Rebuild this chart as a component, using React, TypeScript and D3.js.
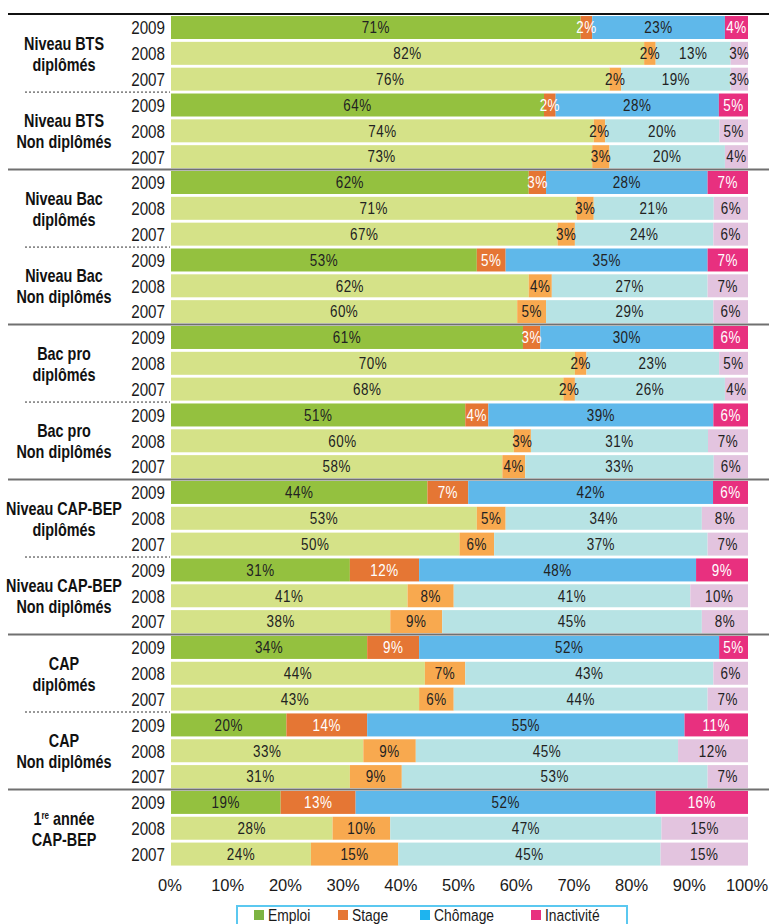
import React from "react";
import * as d3 from "d3";

const groupLabels: string[][] = [
  ["Niveau BTS", "diplômés"],
  ["Niveau BTS", "Non diplômés"],
  ["Niveau Bac", "diplômés"],
  ["Niveau Bac", "Non diplômés"],
  ["Bac pro", "diplômés"],
  ["Bac pro", "Non diplômés"],
  ["Niveau CAP-BEP", "diplômés"],
  ["Niveau CAP-BEP", "Non diplômés"],
  ["CAP", "diplômés"],
  ["CAP", "Non diplômés"],
  ["1re année", "CAP-BEP"],
];
const years = ["2009", "2008", "2007"];
const seriesNames = ["Emploi", "Stage", "Chômage", "Inactivité"];

// one value per row, groups in order, years 2009, 2008, 2007
const emploi = [71, 82, 76, 64, 74, 73, 62, 71, 67, 53, 62, 60, 61, 70, 68, 51, 60, 58, 44, 53, 50, 31, 41, 38, 34, 44, 43, 20, 33, 31, 19, 28, 24];
const stage = [2, 2, 2, 2, 2, 3, 3, 3, 3, 5, 4, 5, 3, 2, 2, 4, 3, 4, 7, 5, 6, 12, 8, 9, 9, 7, 6, 14, 9, 9, 13, 10, 15];
const chomage = [23, 13, 19, 28, 20, 20, 28, 21, 24, 35, 27, 29, 30, 23, 26, 39, 31, 33, 42, 34, 37, 48, 41, 45, 52, 43, 44, 55, 45, 53, 52, 47, 45];
const inactivite = [4, 3, 3, 5, 5, 4, 7, 6, 6, 7, 7, 6, 6, 5, 4, 6, 7, 6, 6, 8, 7, 9, 10, 8, 5, 6, 7, 11, 12, 7, 16, 15, 15];
const xTicks = [0, 10, 20, 30, 40, 50, 60, 70, 80, 90, 100];

const darkColors = ["#94c13f", "#e57634", "#5fb8ea", "#e8307f"];
const lightColors = ["#d5e288", "#f8a94f", "#b7e3e4", "#e3c4df"];
const legendColors = ["#7cb342", "#e57634", "#1eb4ef", "#e8307f"];

const SANS = "'Liberation Sans', Arial, sans-serif";

function NText(props: {
  x: number;
  y: number;
  sx?: number;
  anchor?: string;
  size: number;
  weight?: string;
  fill?: string;
  ls?: number;
  children: React.ReactNode;
}) {
  const { x, y, sx = 0.82, anchor = "start", size, weight = "normal", fill = "#1a1a1a", ls = 0, children } = props;
  return (
    <text
      transform={`translate(${x},${y}) scale(${sx},1)`}
      dy="0.36em"
      textAnchor={anchor}
      fontFamily={SANS}
      fontSize={size}
      fontWeight={weight}
      letterSpacing={ls}
      fill={fill}
    >
      {children}
    </text>
  );
}

export default function App() {
  const W = 769;
  const H = 924;
  const keys = ["emploi", "stage", "chomage", "inactivite"];
  const rows = emploi.map((_, i) => {
    const tot = emploi[i] + stage[i] + chomage[i] + inactivite[i];
    return {
      id: String(i),
      year: years[i % 3],
      raw: [emploi[i], stage[i], chomage[i], inactivite[i]],
      emploi: (emploi[i] / tot) * 100,
      stage: (stage[i] / tot) * 100,
      chomage: (chomage[i] / tot) * 100,
      inactivite: (inactivite[i] / tot) * 100,
    };
  });
  const stacked = d3.stack<any>().keys(keys)(rows);

  const x = d3.scaleLinear().domain([0, 100]).range([171, 748]);
  const y = d3
    .scaleBand<string>()
    .domain(rows.map((r) => r.id))
    .range([14.6, 14.6 + 33 * 25.83])
    .paddingInner(0.11)
    .paddingOuter(0.055);
  const bw = y.bandwidth();
  const step = y.step();

  const solidLines = [6, 12, 18, 24, 30];
  const dottedLines = [3, 9, 15, 21, 27];

  return (
    <svg width={W} height={H} style={{ position: "absolute", left: 0, top: 0, background: "#fff" }}>
      {/* bars */}
      {stacked.map((layer, si) =>
        layer.map((d, ri) => {
          const row = rows[ri];
          const is2009 = row.year === "2009";
          const x0 = x(d[0]);
          const x1 = x(d[1]);
          return (
            <rect
              key={`${si}-${ri}`}
              x={x0}
              y={y(row.id) as number}
              width={x1 - x0}
              height={bw}
              fill={is2009 ? darkColors[si] : lightColors[si]}
            />
          );
        })
      )}
      {stacked.map((layer, si) =>
        layer.map((d, ri) => {
          const row = rows[ri];
          const is2009 = row.year === "2009";
          const cx = (x(d[0]) + x(d[1])) / 2;
          const cy = (y(row.id) as number) + bw / 2;
          const white = is2009 && (si === 1 || si === 3);
          return (
            <NText key={`t${si}-${ri}`} x={cx} y={cy} anchor="middle" size={16} sx={0.84} ls={0.6} fill={white ? "#ffffff" : "#222"}>
              {`${row.raw[si]}%`}
            </NText>
          );
        })
      )}

      {/* separators */}
      <line x1={8} x2={769} y1={14} y2={14} stroke="#111" strokeWidth={2} />
      {solidLines.map((r) => {
        const yy = (y(String(r)) as number) - (step - bw) / 2;
        return <line key={`s${r}`} x1={8} x2={769} y1={yy} y2={yy} stroke="#707070" strokeWidth={2} />;
      })}
      {dottedLines.map((r) => {
        const yy = (y(String(r)) as number) - (step - bw) / 2;
        return (
          <line key={`d${r}`} x1={25} x2={170} y1={yy} y2={yy} stroke="#333" strokeWidth={1} strokeDasharray="2,2" />
        );
      })}

      {/* year labels */}
      {rows.map((r) => (
        <NText key={`y${r.id}`} x={165} y={(y(r.id) as number) + bw / 2} anchor="end" size={19} sx={0.8}>
          {r.year}
        </NText>
      ))}

      {/* group labels */}
      {groupLabels.map((g, gi) => {
        const mid = (y(String(gi * 3 + 1)) as number) + bw / 2;
        const first =
          g[0] === "1re année" ? (
            <>
              1<tspan fontSize={10} dy={-6}>re</tspan>
              <tspan dy={6}> année</tspan>
            </>
          ) : (
            g[0]
          );
        return (
          <g key={`g${gi}`}>
            <NText x={64} y={mid - 10} anchor="middle" size={18} sx={0.8} weight="bold" fill="#111">
              {first}
            </NText>
            <NText x={64} y={mid + 11} anchor="middle" size={18} sx={0.8} weight="bold" fill="#111">
              {g[1]}
            </NText>
          </g>
        );
      })}

      {/* x axis tick labels */}
      {xTicks.map((t) => (
        <text
          key={`x${t}`}
          x={x(t) - 1}
          y={885}
          dy="0.36em"
          textAnchor="middle"
          fontFamily={SANS}
          fontSize={16.5}
          fill="#1a1a1a"
        >
          {`${t}%`}
        </text>
      ))}

      {/* legend */}
      <rect x={237} y={906} width={390} height={30} fill="#fff" stroke="#5bc8f0" strokeWidth={2} />
      {seriesNames.map((s, i) => {
        const sx = [254, 338, 420, 531][i];
        return (
          <g key={`l${i}`}>
            <rect x={sx} y={910} width={10} height={10} fill={legendColors[i]} />
            <NText x={sx + 14} y={915} size={16.5} sx={0.84}>
              {s}
            </NText>
          </g>
        );
      })}
    </svg>
  );
}
